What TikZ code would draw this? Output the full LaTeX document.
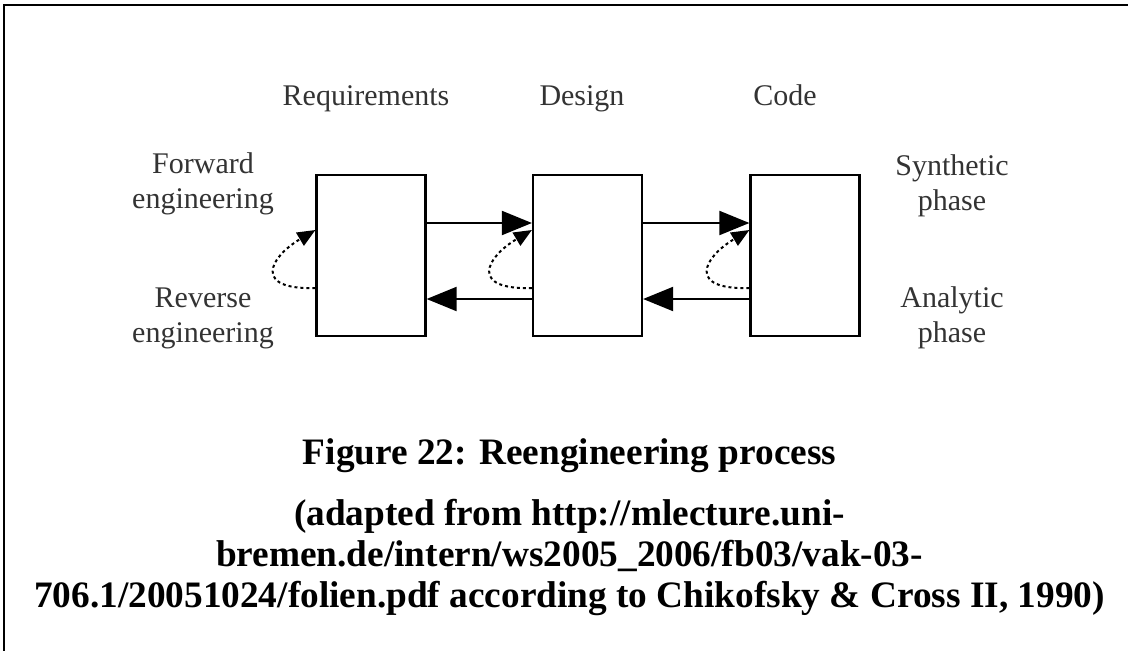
\documentclass[tikz,border=0pt]{standalone}
\usepackage{fontspec}
\setmainfont{Liberation Serif}
\usetikzlibrary{arrows.meta,calc}
\begin{document}
\begin{tikzpicture}[x=1pt,y=-1pt,
  stage/.style={draw, line width=2.2pt, minimum width=109pt, minimum height=161pt, inner sep=0pt},
  lbl/.style={font=\fontsize{30}{35}\selectfont, text=black!80, inner sep=0pt, align=center},
  fwdarrow/.style={line width=2pt, -{Triangle[length=30pt,width=24pt]}},
  fbloop/.style={line width=2pt, dash pattern=on 3pt off 3pt, -{Triangle[length=18pt,width=15pt]}},
  captxt/.style={font=\fontsize{37.3}{41}\selectfont\bfseries, inner sep=0pt, align=center}]
  \useasboundingbox (0,0) rectangle (1128,651);
  % frame: top and left rule
  \draw[line width=2.5pt] (4,651) -- (4,5) -- (1128,5);

  % the three stages
  \node[stage] (req) at (371,255.5) {};
  \node[stage] (des) at (587.5,255.5) {};
  \node[stage] (cod) at (805,255.5) {};

  % headings and side labels (base = baseline of the last line)
  \node[lbl, anchor=base] (treq) at (366,105) {Requirements};
  \node[lbl, anchor=base] (tdes) at (582,105) {Design};
  \node[lbl, anchor=base] (tcod) at (785,105) {Code};
  \node[lbl, anchor=base] (fwd) at (203,208) {Forward\\engineering};
  \node[lbl, anchor=base] (rev) at (203,342) {Reverse\\engineering};
  \node[lbl, anchor=base] (syn) at (952,210) {Synthetic\\phase};
  \node[lbl, anchor=base] (ana) at (952,342) {Analytic\\phase};

  % forward and reverse flows
  \draw[fwdarrow] ($(req.east)+(0,-32.5)$) -- ($(des.west)+(0,-32.5)$);
  \draw[fwdarrow] ($(des.east)+(0,-32.5)$) -- ($(cod.west)+(0,-32.5)$);
  \draw[fwdarrow] ($(des.west)+(0,43.5)$) -- ($(req.east)+(0,43.5)$);
  \draw[fwdarrow] ($(cod.west)+(0,43.5)$) -- ($(des.east)+(0,43.5)$);

  % dotted feedback loops
  \foreach \s in {req,des,cod}
    \draw[fbloop] ($(\s.west)+(0,32.5)$) .. controls +(-62,2) and +(-47,28) .. ($(\s.west)+(0,-25.5)$);

  % caption
  \node[captxt, anchor=base] (title) at (569.5,464) {Figure 22: Reengineering process};
  \node[captxt, anchor=base] (src) at (569.5,607) {(adapted from http://mlecture.uni-\\bremen.de/intern/ws2005\_2006/fb03/vak-03-\\706.1/20051024/folien.pdf according to Chikofsky \& Cross II, 1990)};
\end{tikzpicture}
\end{document}
